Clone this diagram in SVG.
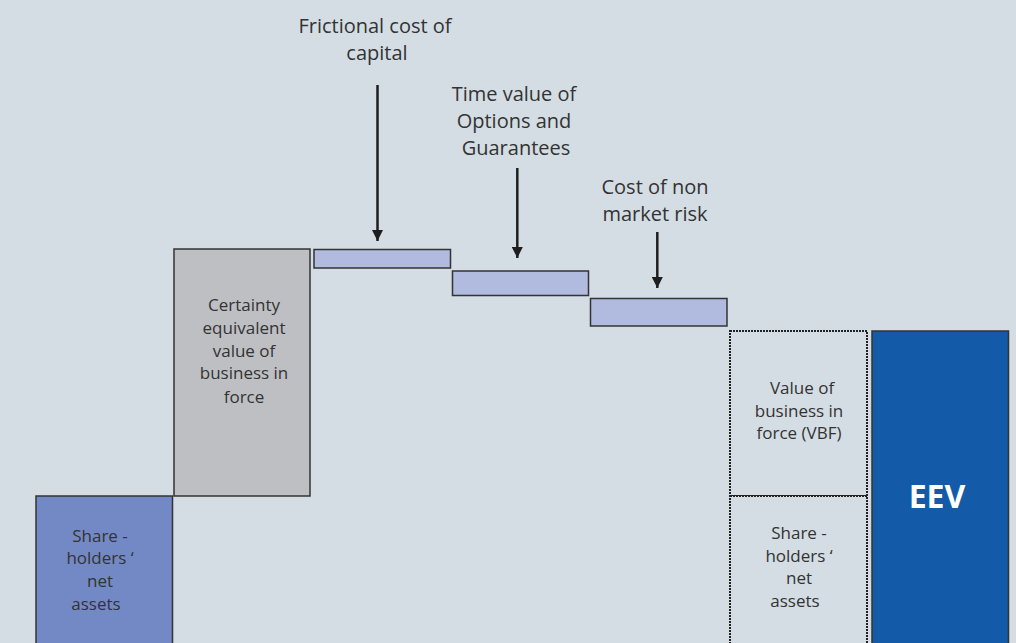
<svg xmlns="http://www.w3.org/2000/svg" width="1016" height="643" viewBox="0 0 1016 643">
<defs>
<marker id="ah" markerWidth="11" markerHeight="11" refX="11" refY="5.5" orient="auto" markerUnits="userSpaceOnUse">
<path d="M0,0 L11,5.5 L0,11 Z" fill="#1e1e1e"/>
</marker>
</defs>
<style>
.t{font-family:"Open Sans","Noto Sans",sans-serif;fill:#333;text-anchor:middle}
.lbl{font-size:20px}
.box{font-size:17px}
.solid{stroke:#333;stroke-width:1.5}
.dot{fill:#d4dde3;stroke:#222;stroke-width:2;stroke-dasharray:2 1}
.bar{fill:#b0bbdf;stroke:#333;stroke-width:1.5}
.conn{stroke:#1e1e1e;stroke-width:2.5;fill:none}
</style>
<rect width="1016" height="643" fill="#d4dde3"/>

<g id="shareholders">
<rect class="solid" x="36" y="496" width="136.5" height="150" fill="#7389c6"/>
<text class="t box" x="100" y="541.7">Share -</text>
<text class="t box" x="100" y="564.3">holders ‘</text>
<text class="t box" x="100" y="587">net</text>
<text class="t box" x="96" y="609.6">assets</text>
</g>

<g id="certainty">
<rect class="solid" x="174" y="249" width="136" height="247" fill="#bebfc3"/>
<text class="t box" x="244" y="310.7">Certainty</text>
<text class="t box" x="244" y="333.5">equivalent</text>
<text class="t box" x="244" y="356.5">value of</text>
<text class="t box" x="244" y="379.3">business in</text>
<text class="t box" x="244" y="402.5">force</text>
</g>

<g id="frictional">
<rect class="bar" x="314" y="249.5" width="136.5" height="18.5"/>
<text class="t lbl" x="375" y="32.5">Frictional cost of</text>
<text class="t lbl" x="377" y="60">capital</text>
</g>

<g id="tvog">
<rect class="bar" x="452.5" y="271" width="136" height="24.5"/>
<text class="t lbl" x="514" y="101">Time value of</text>
<text class="t lbl" x="514" y="128">Options and</text>
<text class="t lbl" x="516" y="155">Guarantees</text>
</g>

<g id="nonmarket">
<rect class="bar" x="590.5" y="298.5" width="136.5" height="27.5"/>
<text class="t lbl" x="655" y="194">Cost of non</text>
<text class="t lbl" x="655" y="220.5">market risk</text>
</g>

<g id="vbf">
<rect class="dot" x="730" y="331" width="137" height="165"/>
<text class="t box" x="802" y="394">Value of</text>
<text class="t box" x="799" y="416.7">business in</text>
<text class="t box" x="799" y="439.3">force (VBF)</text>
</g>

<g id="shareholders2">
<rect class="dot" x="730" y="496" width="137" height="150"/>
<text class="t box" x="799" y="539">Share -</text>
<text class="t box" x="799" y="561.7">holders ‘</text>
<text class="t box" x="799" y="584.3">net</text>
<text class="t box" x="795" y="607">assets</text>
</g>

<g id="eev">
<rect class="solid" x="872" y="331" width="136.5" height="315" fill="#135aa9"/>
<text x="937" y="508" text-anchor="middle" font-family="'Open Sans','Noto Sans',sans-serif" font-size="32" font-weight="bold" fill="#ffffff">EEV</text>
</g>

<g id="connectors">
<line class="conn" x1="377.5" y1="85" x2="377.5" y2="241" marker-end="url(#ah)"/>
<line class="conn" x1="517.3" y1="168" x2="517.3" y2="258" marker-end="url(#ah)"/>
<line class="conn" x1="657.3" y1="232" x2="657.3" y2="288" marker-end="url(#ah)"/>
</g>
</svg>
